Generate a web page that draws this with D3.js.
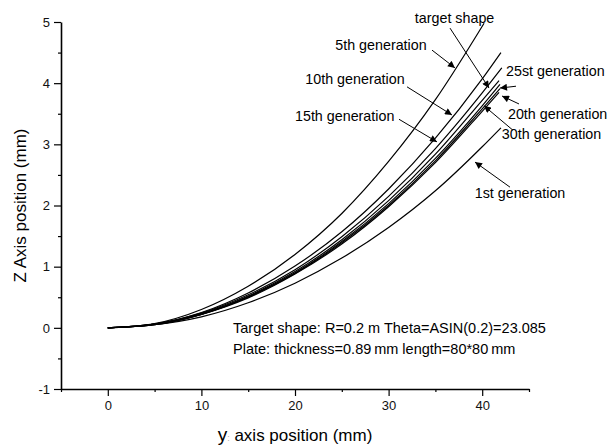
<!DOCTYPE html>
<html>
<head>
<meta charset="utf-8">
<script src="https://cdn.jsdelivr.net/npm/d3@7"></script>
<style>
  body { margin: 0; background: #fff; }
  svg { display: block; font-family: Arial, "Liberation Sans", sans-serif; }
</style>
</head>
<body>
<svg></svg>
<script>
// values: [y position, z position] in mm
const gen1 = [[0,0],[5,0.05],[10,0.18],[15,0.41],[20,0.73],[25,1.14],[30,1.64],[35,2.24],[40,2.96],[42,3.27]];
const gen5 = [[0,0],[5,0.07],[10,0.30],[15,0.68],[20,1.20],[25,1.87],[30,2.72],[35,3.73],[40.2,4.98]];
const gen10 = [[0,0],[5,0.06],[10,0.25],[15,0.57],[20,1.01],[25,1.57],[30,2.27],[35,3.10],[40,4.07],[42,4.50]];
const gen15 = [[0,0],[5,0.06],[10,0.24],[15,0.54],[20,0.95],[25,1.49],[30,2.15],[35,2.93],[40,3.84],[42.1,4.25]];
const target = [[0,0],[5,0.06],[10,0.23],[15,0.52],[20,0.92],[25,1.44],[30,2.08],[35,2.84],[40,3.72],[41.8,4.04]];
const gen25 = [[0,0],[5,0.06],[10,0.22],[15,0.51],[20,0.90],[25,1.41],[30,2.03],[35,2.77],[40,3.63],[41.9,3.98]];
const gen20 = [[0,0],[5,0.05],[10,0.22],[15,0.50],[20,0.89],[25,1.39],[30,2.00],[35,2.73],[40,3.58],[41.9,3.91]];
const gen30 = [[0,0],[5,0.05],[10,0.22],[15,0.49],[20,0.88],[25,1.37],[30,1.98],[35,2.70],[40,3.54],[41.8,3.85]];

const xTicks = [0, 10, 20, 30, 40];
const zTicks = [-1, 0, 1, 2, 3, 4, 5];

const labels = ["target shape", "5th generation", "10th generation", "15th generation",
  "25st generation", "20th generation", "30th generation", "1st generation"];
const labelAt = [[32.8,4.99],[24.3,4.55],[21.1,3.98],[20.0,3.38],[42.55,4.12],[42.75,3.41],[42.1,3.08],[39.2,2.13]];
const arrowFrom = [[36.56,4.90],[34.64,4.54],[31.97,3.94],[31.11,3.41],[43.61,3.95],[43.93,3.66],[43.29,3.23],[42.97,2.30]];
const arrowTo = [[40.73,3.92],[37.09,4.25],[36.77,3.48],[35.17,3.04],[41.90,3.92],[42.12,3.79],[40.19,3.63],[39.23,2.71]];

const notes = ["Target shape:  R=0.2 m Theta=ASIN(0.2)=23.085", "Plate: thickness=0.89\u2009mm length=80*80\u2009mm"];

const svg = d3.select("svg").attr("width", 607).attr("height", 446);
const margin = { top: 22, right: 78, bottom: 57, left: 61 };
const width = 607 - margin.left - margin.right;
const height = 446 - margin.top - margin.bottom;
const g = svg.append("g").attr("transform", `translate(${margin.left},${margin.top})`);

const x = d3.scaleLinear().domain([-5, 45]).range([0, width]);
const y = d3.scaleLinear().domain([-1, 5]).range([height, 0]);

// minor ticks
g.append("g").attr("transform", `translate(0,${height})`)
  .call(d3.axisBottom(x).tickValues(d3.range(-5, 46, 10)).tickSize(3).tickSizeOuter(0).tickFormat(""))
  .call(a => a.select(".domain").remove());
g.append("g")
  .call(d3.axisLeft(y).tickValues(d3.range(-0.5, 5, 1)).tickSize(3).tickSizeOuter(0).tickFormat(""))
  .call(a => a.select(".domain").remove());

const xAxis = g.append("g").attr("transform", `translate(0,${height})`)
  .call(d3.axisBottom(x).tickValues(xTicks).tickSize(7).tickSizeOuter(0).tickPadding(5).tickFormat(d => String(d)));
const yAxis = g.append("g")
  .call(d3.axisLeft(y).tickValues(zTicks).tickSize(7).tickSizeOuter(0).tickPadding(4).tickFormat(d => String(d)));

[xAxis, yAxis].forEach(a => {
  a.selectAll("text").style("font-size", "13px").attr("fill", "#111");
  a.select(".domain").attr("stroke-width", 1.6);
});
g.selectAll(".tick line").attr("stroke-width", 1.2);

const line = d3.line().x(d => x(d[0])).y(d => y(d[1])).curve(d3.curveMonotoneX);

[gen1, gen5, gen10, gen15, target, gen25, gen20, gen30].forEach(series => {
  g.append("path").datum(series)
    .attr("fill", "none")
    .attr("stroke", "#000")
    .attr("stroke-width", 1.2)
    .attr("d", line);
});

svg.append("defs").append("marker")
  .attr("id", "head")
  .attr("viewBox", "0 0 10 10")
  .attr("refX", 10).attr("refY", 5)
  .attr("markerWidth", 8).attr("markerHeight", 7)
  .attr("markerUnits", "userSpaceOnUse")
  .attr("orient", "auto")
  .append("path").attr("d", "M0,0L10,5L0,10z").attr("fill", "#000");

labels.forEach((t, i) => {
  g.append("line")
    .attr("x1", x(arrowFrom[i][0])).attr("y1", y(arrowFrom[i][1]))
    .attr("x2", x(arrowTo[i][0])).attr("y2", y(arrowTo[i][1]))
    .attr("stroke", "#000").attr("stroke-width", 1)
    .attr("marker-end", "url(#head)");
  g.append("text")
    .attr("x", x(labelAt[i][0])).attr("y", y(labelAt[i][1]))
    .style("font-size", "14.3px")
    .text(t);
});

g.append("text").attr("x", x(13.38)).attr("y", y(-0.08)).style("font-size", "14.5px").text(notes[0]);
g.append("text").attr("x", x(13.38)).attr("y", y(-0.43)).style("font-size", "14.5px").text(notes[1]);

const xl = svg.append("text")
  .attr("x", margin.left + width / 2)
  .attr("y", 441)
  .attr("text-anchor", "middle")
  .style("font-size", "17px");
xl.append("tspan").style("font-size", "19px").text("y");
xl.append("tspan").attr("fill", "#aaa").style("font-size", "9px").text(":");
xl.append("tspan").text(" axis position (mm)");

svg.append("text")
  .attr("transform", `translate(26, ${margin.top + height / 2}) rotate(-90)`)
  .attr("text-anchor", "middle")
  .style("font-size", "17px")
  .text("Z Axis position (mm)");
</script>
</body>
</html>
